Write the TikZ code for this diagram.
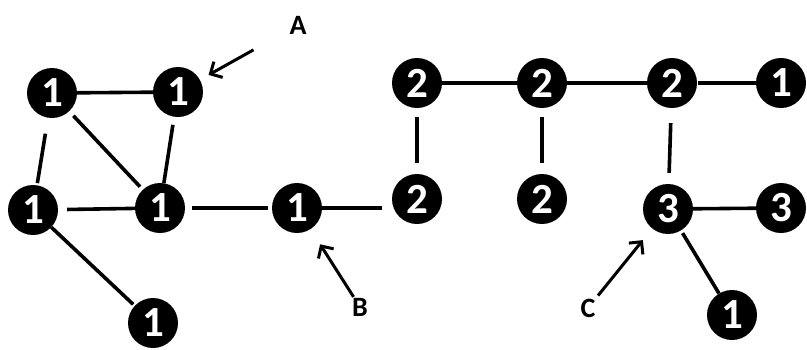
\documentclass[tikz,border=0pt]{standalone}
\usepackage{fontspec}
\setmainfont{Carlito}
\usetikzlibrary{arrows.meta}
\begin{document}
\begin{tikzpicture}[x=1pt,y=-1pt,
  vtx/.style={circle,fill=black,minimum size=50pt,inner sep=0pt,text=white,font=\bfseries\fontsize{43}{43}\selectfont},
  edge/.style={line width=3.6pt},
  lbl/.style={inner sep=0pt,font=\bfseries\fontsize{28}{28}\selectfont},
  ptr/.style={line width=3pt,-{Straight Barb[length=9pt,width=18pt,line width=3pt]}}]
\useasboundingbox (0,0) rectangle (807,349);
% nodes
\node[vtx] (a) at (52,93) {1};
\node[vtx] (b) at (178,92) {1};
\node[vtx] (c) at (33,210) {1};
\node[vtx] (d) at (160,208) {1};
\node[vtx] (e) at (297,208) {1};
\node[vtx] (f) at (153,323) {1};
\node[vtx] (g) at (417,83) {2};
\node[vtx] (h) at (542,83) {2};
\node[vtx] (i) at (672,83) {2};
\node[vtx] (j) at (781,83) {1};
\node[vtx] (k) at (417,199) {2};
\node[vtx] (l) at (542,199) {2};
\node[vtx] (m) at (668,209) {3};
\node[vtx] (n) at (781,208) {3};
\node[vtx] (o) at (732,315) {1};
% labels
\node[lbl] (lA) at (298,25) {A};
\node[lbl] (lB) at (360,307) {B};
\node[lbl] (lC) at (588,308) {C};
% edges
\draw[edge] (a) -- (b);
\draw[edge,shorten <=16pt,shorten >=2pt] (a) -- (c);
\draw[edge,shorten <=6pt,shorten >=4pt] (a) -- (d);
\draw[edge,shorten <=8pt] (b) -- (d);
\draw[edge,shorten <=9pt] (c) -- (d);
\draw[edge,shorten <=7pt,shorten >=4pt] (d) -- (e);
\draw[edge,shorten >=10pt] (e) -- (e -| k.west);
\draw[edge,shorten >=2pt] (c) -- (f);
\draw[edge] (g) -- (h);
\draw[edge] (h) -- (i);
\draw[edge,shorten <=1pt] (i) -- (j);
\draw[edge,shorten <=9pt,shorten >=11pt,xshift=-4pt] (g) -- (k);
\draw[edge,shorten <=9pt,shorten >=11pt] (h) -- (l);
\draw[edge,shorten <=15pt,shorten >=11pt] (i) -- (m);
\draw[edge] (m) -- (n);
\draw[edge,shorten <=3pt] (m) -- (o);
% pointers
\draw[ptr,shorten <=51pt,shorten >=35pt] (lA.center) -- (b.center);
\draw[ptr,shorten <=12pt,shorten >=43pt] (lB.center) -- (e.center);
\draw[ptr,shorten <=16pt,shorten >=40pt] (lC.center) -- (m.center);
\end{tikzpicture}
\end{document}
